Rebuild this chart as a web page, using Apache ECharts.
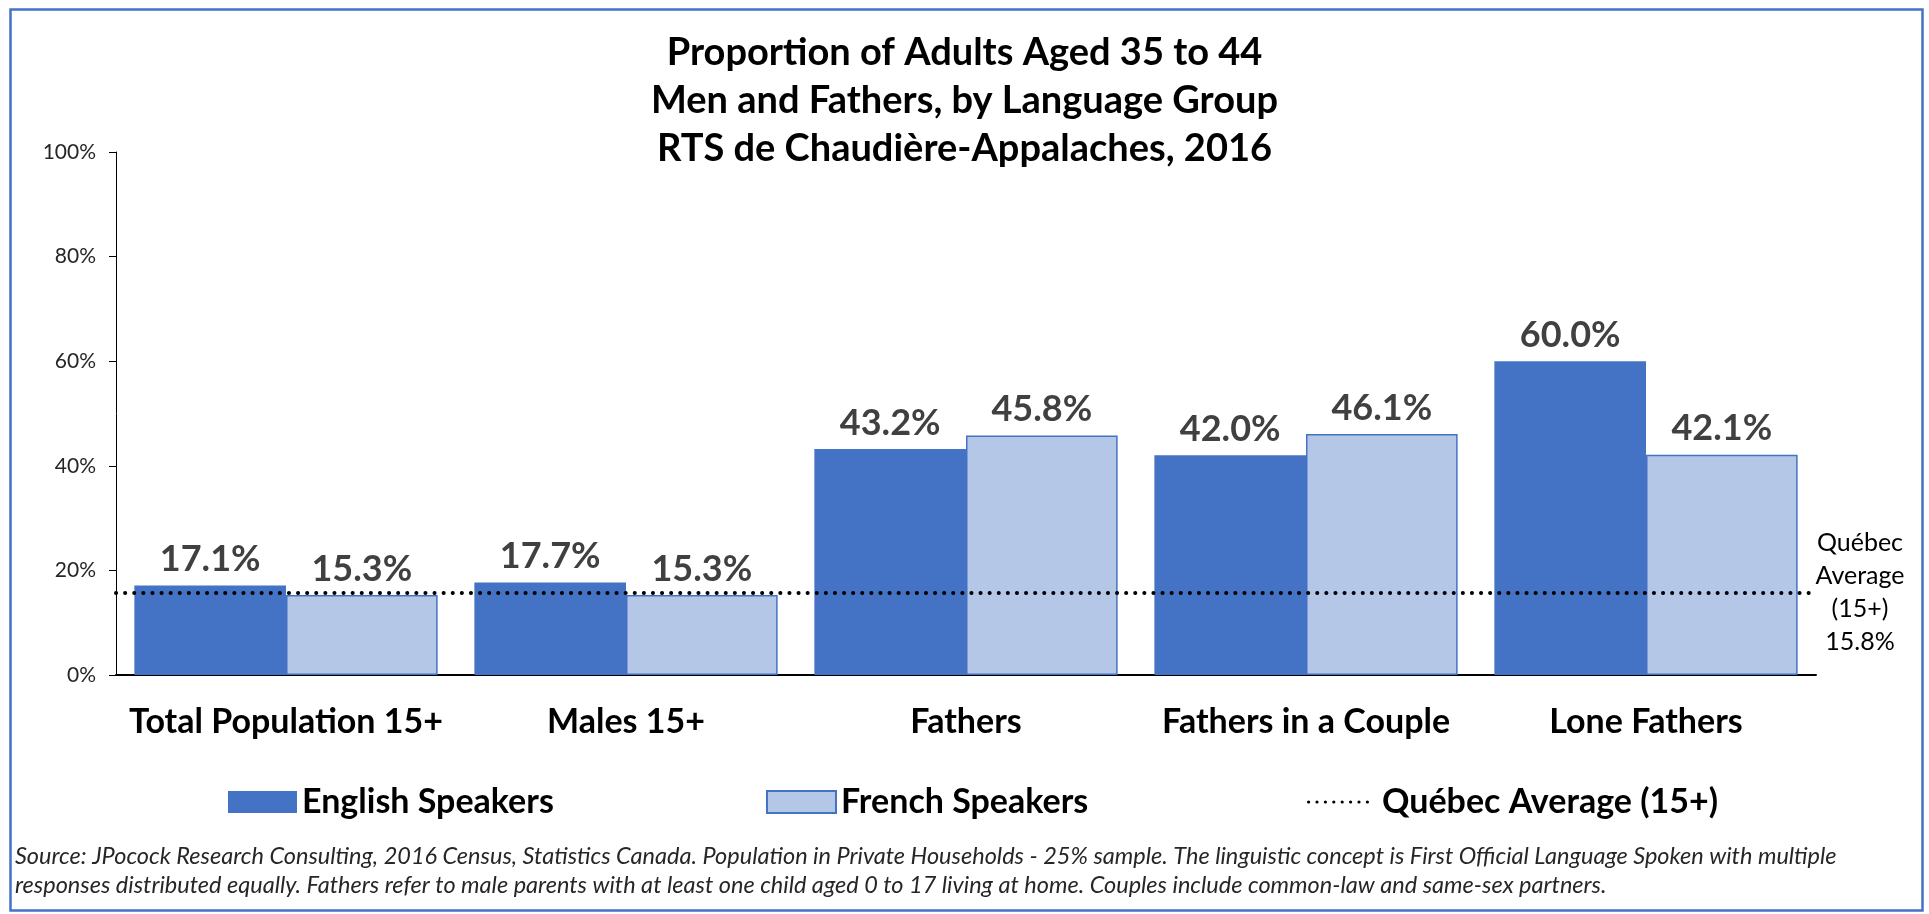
<!DOCTYPE html>
<html><head><meta charset="utf-8">
<script src="https://cdn.jsdelivr.net/npm/echarts@6/dist/echarts.min.js"></script>
<style>html,body{margin:0;padding:0;background:#fff}#c{width:1929px;height:914px}</style>
</head><body><div id="c"></div>
<script>
const categories = ['Total Population 15+', 'Males 15+', 'Fathers', 'Fathers in a Couple', 'Lone Fathers'];
const englishSpeakers = [17.1, 17.7, 43.2, 42.0, 60.0];
const frenchSpeakers = [15.3, 15.3, 45.8, 46.1, 42.1];
const quebecAverage = 15.8;
const yTickValues = [0, 20, 40, 60, 80, 100];
const seriesNames = ['English Speakers', 'French Speakers', 'Québec Average (15+)'];
const titleLines = ['Proportion of Adults Aged 35 to 44', 'Men and Fathers, by Language Group', 'RTS de Chaudière-Appalaches, 2016'];
const annotationLines = ['Québec', 'Average', '(15+)'];
const sourceLines = [
  'Source: JPocock Research Consulting, 2016 Census, Statistics Canada. Population in Private Households - 25% sample. The linguistic concept is First Official Language Spoken with multiple',
  'responses distributed equally. Fathers refer to male parents with at least one child aged 0 to 17 living at home. Couples include common-law and same-sex partners.'
];

const FONT = 'Lato';
const BLUE = '#4472C4';
const LIGHT = '#B4C7E7';

// dotted legend icon: a row of small dots
function dottedIcon(count, r, step) {
  let d = '';
  for (let i = 0; i < count; i++) {
    const cx = r + i * step;
    d += 'M' + (cx - r) + ',' + r + 'a' + r + ',' + r + ' 0 1,0 ' + (2 * r) + ',0a' + r + ',' + r + ' 0 1,0 ' + (-2 * r) + ',0';
  }
  return 'path://' + d;
}

const chart = echarts.init(document.getElementById('c'), null, {renderer: 'canvas'});
const legendText = {fontFamily: FONT, fontWeight: 'bold', fontSize: 34, color: '#000'};
const dataLabel = {show: true, position: 'top', distance: 8, fontFamily: FONT, fontWeight: 'bold', fontSize: 36, color: '#404040',
  formatter: p => p.value.toFixed(1) + '%'};
const option = {
  backgroundColor: '#fff',
  animation: false,
  title: {
    text: titleLines.join('\n'),
    left: 'center', top: 29, padding: 0,
    textStyle: {fontFamily: FONT, fontWeight: 'bold', fontSize: 38, lineHeight: 48, color: '#000'}
  },
  grid: {left: 116, right: 113, top: 152, bottom: 239, containLabel: false},
  legend: [
    {data: [{name: seriesNames[0], icon: 'rect'}], left: 223, top: 780, itemWidth: 69, itemHeight: 22, itemGap: 0, textStyle: legendText},
    {data: [{name: seriesNames[1], icon: 'rect'}], left: 761, top: 780, itemWidth: 69, itemHeight: 22, itemGap: 0, textStyle: legendText},
    {data: [{name: seriesNames[2], icon: dottedIcon(8, 1.6, 8.4)}], left: 1302, top: 780, itemWidth: 62, itemHeight: 3.2, itemGap: 0,
      textStyle: Object.assign({}, legendText, {padding: [0, 0, 0, 8]}), itemStyle: {color: '#000'}}
  ],
  xAxis: {
    type: 'category', data: categories,
    axisLine: {lineStyle: {color: '#000', width: 2}},
    axisTick: {show: false},
    axisLabel: {fontFamily: FONT, fontWeight: 'bold', fontSize: 34, color: '#000', margin: 30, interval: 0}
  },
  yAxis: {
    type: 'value', min: yTickValues[0], max: yTickValues[yTickValues.length - 1], interval: yTickValues[1] - yTickValues[0],
    axisLine: {show: true, lineStyle: {color: '#000', width: 1}},
    axisTick: {show: true, length: 7, lineStyle: {color: '#000'}},
    splitLine: {show: false},
    axisLabel: {fontFamily: FONT, fontSize: 21, color: '#262626', margin: 20, formatter: '{value}%'}
  },
  series: [
    {
      name: seriesNames[0], type: 'bar', data: englishSpeakers,
      barGap: '0%', barCategoryGap: '10.8%',
      itemStyle: {color: BLUE},
      label: dataLabel
    },
    {
      name: seriesNames[1], type: 'bar', data: frenchSpeakers,
      barGap: '0%', barCategoryGap: '10.8%',
      itemStyle: {color: LIGHT, borderColor: BLUE, borderWidth: 1.5},
      label: dataLabel
    },
    {
      name: seriesNames[2], type: 'line', data: [],
      symbol: 'none', showSymbol: false,
      lineStyle: {color: '#000', width: 4, type: [0.1, 9], cap: 'round'},
      itemStyle: {color: '#000'},
      markLine: {
        silent: true, symbol: ['none', 'none'],
        lineStyle: {color: '#000', width: 4, type: [0.1, 9], cap: 'round'},
        label: {
          show: true, position: 'end', distance: 44, align: 'center', verticalAlign: 'middle',
          fontFamily: FONT, fontSize: 25, lineHeight: 33, color: '#000',
          formatter: p => annotationLines.join('\n') + '\n' + p.value.toFixed(1) + '%'
        },
        data: [{yAxis: quebecAverage}]
      }
    }
  ],
  graphic: [
    {type: 'rect', left: 8, top: 7, shape: {width: 1912, height: 901}, style: {fill: 'none', stroke: BLUE, lineWidth: 2.5}, silent: true, z: -1},
    {type: 'text', left: 15, top: 842, style: {text: sourceLines.join('\n'), fontFamily: FONT, fontStyle: 'italic', fontSize: 23.5, lineHeight: 29, fill: '#262626'}}
  ]
};
chart.setOption(option);
</script></body></html>
